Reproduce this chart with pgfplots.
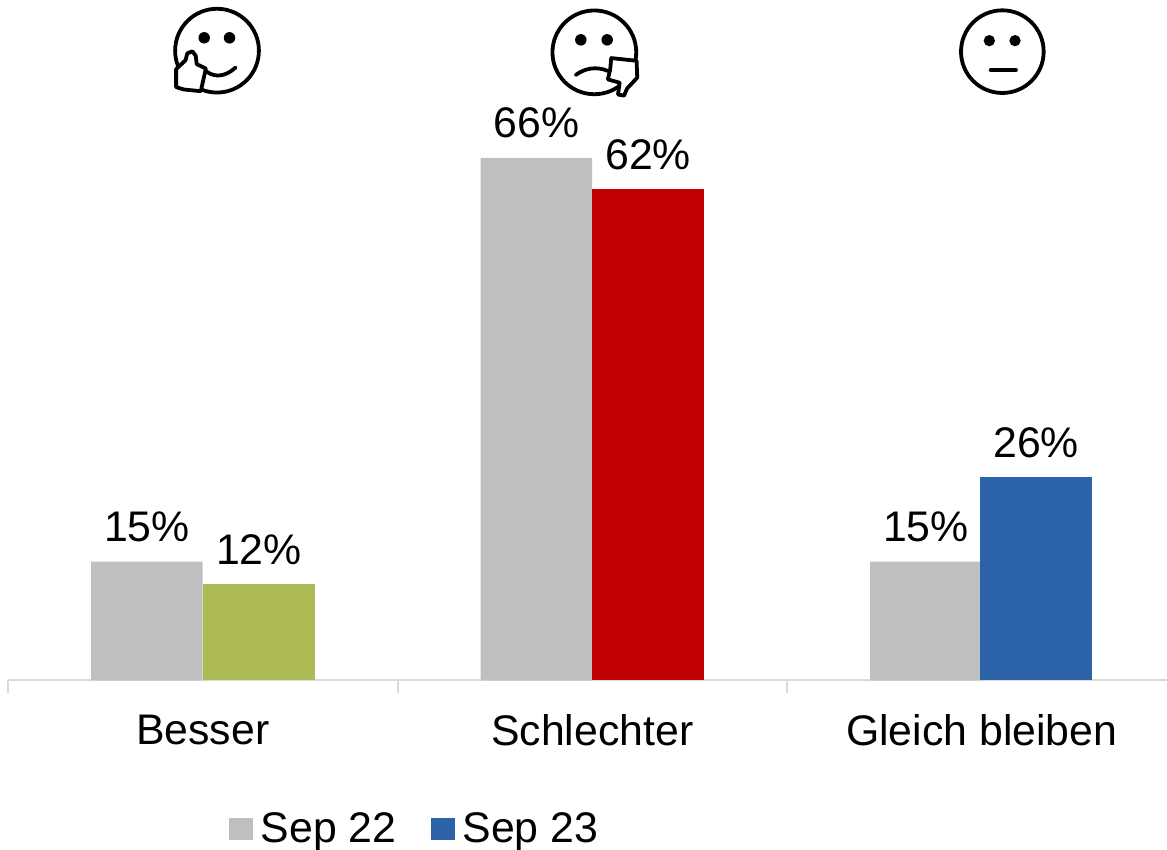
\documentclass[border=0pt]{standalone}
\usepackage{pgfplots}
\usepackage{fontspec}
\setmainfont{Liberation Sans}
\pgfplotsset{compat=1.18}
\definecolor{gr}{HTML}{BFBFBF}
\definecolor{grn}{HTML}{AEBB55}
\definecolor{rd}{HTML}{C00000}
\definecolor{bl}{HTML}{2B62A8}
\definecolor{ax}{HTML}{D9D9D9}
\begin{document}
\begin{tikzpicture}
\useasboundingbox (0,0) rectangle (583.5pt,425pt);
\begin{axis}[
  at={(4pt,84.75pt)}, anchor=south west,
  scale only axis, width=579.5pt, height=277.2pt,
  xmin=-0.5, xmax=2.4756, ymin=0, ymax=70,
  clip=false,
  axis x line*=bottom, axis y line=none,
  axis line style={ax, line width=1pt, -},
  xtick={0,1,2}, xticklabels={Besser,Schlechter,Gleich bleiben},
  minor xtick={-0.5,0.5,1.5},
  major tick length=0pt, minor tick length=6.5pt,
  tick align=outside,
  minor tick style={ax, line width=1pt},
  xticklabel style={font=\fontsize{21.4}{25}\selectfont, yshift=-13.5pt, text=black},
  /pgf/number format/assume math mode=true,
  /pgf/number format/precision=0,
  /pgf/number format/fixed,
  ybar, bar width=0.2865,
  nodes near coords={\pgfmathprintnumber{\pgfplotspointmeta}\%},
  every node near coord/.append style={font=\fontsize{21.4}{25}\selectfont, text=black, inner sep=0pt, yshift=9.5pt},
  legend style={draw=none, fill=none, at={(0.3517,-0.2678)}, anchor=center, legend columns=2,
    font=\fontsize{21.4}{25}\selectfont, inner sep=0pt, row sep=0pt,
    /tikz/every even column/.append style={column sep=15pt}},
  legend cell align=left,
]
\addplot[fill=gr, draw=none, bar shift=-0.1433,
  legend image code/.code={\fill[gr] (0pt,-5.5pt) rectangle (12pt,5.5pt); \path (14pt,0pt);}]
  coordinates {(0,15) (1,66) (2,15)};
\addlegendentry{Sep 22}
\addplot[fill=bl, draw=none, bar shift=0.1395,
  legend image code/.code={\fill[bl] (0pt,-5.5pt) rectangle (12pt,5.5pt); \path (14pt,0pt);}]
  coordinates {(2,25.7)};
\addlegendentry{Sep 23}
\addplot[forget plot, fill=grn, draw=none, bar shift=0.1440] coordinates {(0,12.2)};
\addplot[forget plot, fill=rd, draw=none, bar shift=0.1433] coordinates {(1,62)};
\end{axis}
% faces: coordinates read in the crops
\begin{scope}[shift={(70pt,425pt)}, x=0.1689pt, y=-0.1689pt, line width=1.9pt, line cap=round, line join=round]
  % smile
  \draw (228,150) circle[radius=124];
  \fill (190,112) circle[radius=17];
  \fill (265,112) circle[radius=17];
  \draw[fill=white] (107,205) -- (135,178) -- (140,158) -- (155,152) -- (165,165) -- (168,190) -- (195,203)
     -- (180,270) -- (130,265) -- (107,258) -- cycle;
  \draw (197,212) .. controls (225,232) and (255,225) .. (283,200);
  % frown
  \draw (1345,155) circle[radius=124];
  \fill (1305,118) circle[radius=17];
  \fill (1383,118) circle[radius=17];
  \draw (1290,222) .. controls (1315,203) and (1350,195) .. (1385,210);
  \draw[fill=white] (1395,172) -- (1470,180) -- (1472,230) -- (1442,262) -- (1433,283) -- (1415,280) -- (1420,245)
     -- (1385,235) -- (1392,205) -- cycle;
\end{scope}
\begin{scope}[shift={(450pt,425pt)}, x=0.16667pt, y=-0.16667pt, line width=1.9pt, line cap=round]
  % neutral
  \draw (307,155) circle[radius=124];
  \fill (268,122) circle[radius=17];
  \fill (345,122) circle[radius=17];
  \draw (272,210) -- (348,210);
\end{scope}
\end{tikzpicture}
\end{document}
